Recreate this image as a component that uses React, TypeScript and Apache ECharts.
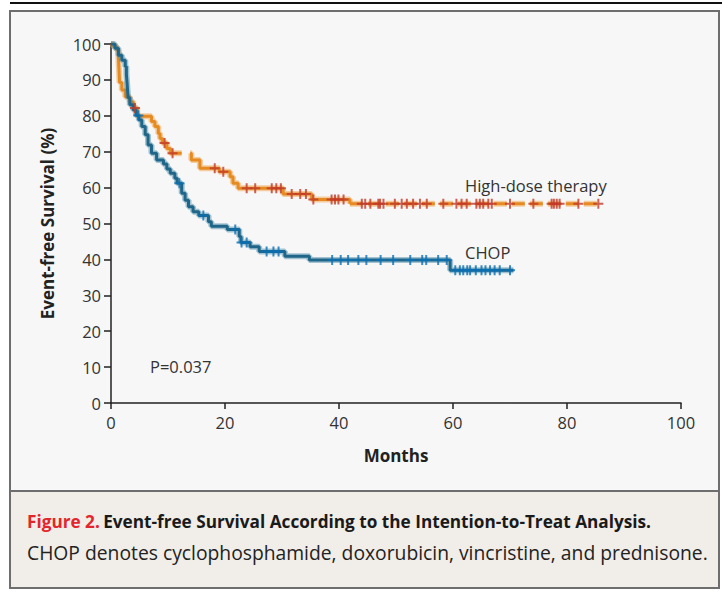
import React, { useEffect, useRef } from "react";
import * as echarts from "echarts";

// Kaplan-Meier step points [month, event-free survival %]
const chopCurve: [number, number][] = [
  [0, 100], [0.7, 98.8], [1.3, 96.9], [1.9, 95.5], [2.5, 93.7], [2.7, 91.5], [2.8, 89.5],
  [2.9, 87.2], [3.0, 85.0], [3.3, 83.1], [3.9, 81.6], [4.4, 80.1], [4.9, 78.8], [5.4, 77.0],
  [6.0, 74.7], [6.5, 71.9], [7.1, 69.6], [8.0, 67.7], [9.2, 66.6], [9.8, 65.2], [10.4, 64.0],
  [11.2, 62.6], [11.6, 61.2], [12.4, 58.4], [13.0, 56.5], [13.6, 54.7], [14.4, 53.3],
  [15.4, 52.2], [17.1, 50.5], [17.6, 49.2], [20.4, 48.3], [22.5, 46.4], [22.8, 44.7],
  [24.4, 43.5], [26.0, 42.2], [30.5, 40.9], [34.8, 39.8], [59.5, 37.0], [70.6, 37.0],
];

const highDoseCurve: [number, number][] = [
  [0, 100], [0.4, 99.3], [1.0, 98.3], [1.3, 96.0], [1.4, 93.0], [1.5, 89.3], [1.9, 87.2],
  [2.5, 85.3], [3.3, 83.9], [3.9, 82.2], [4.6, 79.9], [7.1, 78.4], [7.7, 77.0], [8.3, 75.1],
  [8.6, 73.7], [9.0, 72.4], [9.8, 70.9], [10.4, 69.6], [14.1, 67.7], [15.6, 65.4],
  [19.0, 64.4], [20.9, 63.0], [21.4, 61.2], [22.3, 59.8], [30.2, 58.2], [35.2, 56.7],
  [41.9, 55.5], [86.0, 55.5],
];

// censored observations (months)
const chopCensored = [
  4.8, 12.0, 16.2, 21.8, 22.9, 23.8, 27.3, 28.5, 29.4, 38.8, 40.3, 41.6, 43.4, 44.8, 47.3,
  49.5, 52.5, 54.6, 55.3, 57.4, 58.9, 60.4, 61.2, 61.8, 62.5, 63.0, 64.0, 65.0, 65.7, 66.5,
  67.3, 68.2, 70.0,
];
const highDoseCensored = [
  4.2, 9.4, 10.8, 18.2, 19.7, 23.8, 25.3, 28.2, 29.0, 29.8, 31.7, 33.2, 34.2, 35.5, 38.7,
  39.3, 39.9, 40.8, 44.0, 44.6, 45.5, 46.9, 47.2, 47.8, 49.8, 51.0, 51.9, 53.0, 54.2, 55.4,
  58.3, 60.6, 61.5, 62.4, 64.1, 64.7, 65.3, 66.2, 66.8, 70.0, 74.1, 77.3, 77.7, 78.2, 78.7,
  82.0, 85.5,
];

const highDoseGap = [12.4, 13.9]; // break in the drawn line
const highDoseDashFrom = 41.9; // dashed from here on

const xTicks = { min: 0, max: 100, interval: 20 };
const yTicks = { min: 0, max: 100, interval: 10 };

const FONT = "'Open Sans', 'Noto Sans', sans-serif";

function survivalAt(curve: [number, number][], t: number): number {
  let v = curve[0][1];
  for (const [x, y] of curve) {
    if (x <= t) v = y;
    else break;
  }
  return v;
}

function slice(curve: [number, number][], a: number, b: number): [number, number][] {
  const out: [number, number][] = [[a, survivalAt(curve, a)]];
  for (const p of curve) if (p[0] > a && p[0] < b) out.push(p);
  out.push([b, survivalAt(curve, b)]);
  return out;
}

const PLUS = "path://M4,0H6V4H10V6H6V10H4V6H0V4H4Z";

export default function App() {
  const ref = useRef<HTMLDivElement>(null);
  useEffect(() => {
    document.body.style.margin = "0";
    if (!ref.current) return;
    const chart = echarts.init(ref.current, undefined, { renderer: "svg" });

    const last = highDoseCurve[highDoseCurve.length - 1][0];
    const hd1 = slice(highDoseCurve, 0, highDoseGap[0]);
    const hd2 = slice(highDoseCurve, highDoseGap[1], highDoseDashFrom);
    const hd3 = slice(highDoseCurve, highDoseDashFrom, last);
    const chopLast = chopCurve[chopCurve.length - 1][0];
    const chop = slice(chopCurve, 0, chopLast);

    const orangeHalo = "rgba(240,170,90,0.55)";
    const orange = "#e68a22";
    const blueHalo = "rgba(60,130,165,0.45)";
    const blue = "#1f6688";

    const lineSeries = (data: [number, number][], color: string, width: number, dashed: boolean, z: number) => ({
      type: "line",
      data,
      step: "end",
      showSymbol: false,
      symbol: "none",
      silent: true,
      z,
      lineStyle: { color, width, type: dashed ? [13, 5] : "solid", cap: "butt" },
    });

    const option: any = {
      animation: false,
      backgroundColor: "#ffffff",
      grid: { left: 111, right: 41, top: 44, bottom: 189, containLabel: false },
      xAxis: {
        type: "value",
        ...xTicks,
        name: "Months",
        nameLocation: "middle",
        nameGap: 44,
        nameTextStyle: { fontFamily: FONT, fontSize: 17, fontWeight: "bold", color: "#222" },
        axisLine: { lineStyle: { color: "#222", width: 1.5 } },
        axisTick: { length: 6, lineStyle: { color: "#222", width: 1.5 } },
        axisLabel: { fontFamily: FONT, fontSize: 16.5, color: "#333", margin: 11 },
        splitLine: { show: false },
      },
      yAxis: {
        type: "value",
        ...yTicks,
        name: "Event-free Survival (%)",
        nameLocation: "middle",
        nameGap: 55,
        nameTextStyle: { fontFamily: FONT, fontSize: 17, fontWeight: "bold", color: "#222" },
        axisLine: { lineStyle: { color: "#222", width: 1.5 } },
        axisTick: { length: 7, lineStyle: { color: "#222", width: 1.5 } },
        axisLabel: { fontFamily: FONT, fontSize: 16.5, color: "#333", margin: 10 },
        splitLine: { show: false },
      },
      series: [
        lineSeries(hd1, orangeHalo, 6, false, 2),
        lineSeries(hd2, orangeHalo, 6, false, 2),
        lineSeries(hd3, orangeHalo, 6, true, 2),
        lineSeries(hd1, orange, 3, false, 3),
        lineSeries(hd2, orange, 3, false, 3),
        lineSeries(hd3, orange, 3, true, 3),
        lineSeries(chop, blueHalo, 6, false, 4),
        lineSeries(chop, blue, 3, false, 5),
        {
          type: "scatter",
          symbol: PLUS,
          symbolSize: 10,
          silent: true,
          z: 6,
          itemStyle: { color: "#c0392b" },
          data: highDoseCensored.map((t) => [t, survivalAt(highDoseCurve, t)]),
        },
        {
          type: "scatter",
          symbol: PLUS,
          symbolSize: 10,
          silent: true,
          z: 7,
          itemStyle: { color: "#0b6fb3" },
          data: chopCensored.map((t) => [t, survivalAt(chopCurve, t)]),
        },
      ],
      graphic: [
        { type: "line", z: -5, silent: true, shape: { x1: 10, y1: 3, x2: 722, y2: 3 }, style: { stroke: "#111", lineWidth: 2 } },
        { type: "rect", z: -10, silent: true, shape: { x: 10, y: 11, width: 709, height: 480 }, style: { fill: "#f7f7f7" } },
        { type: "rect", z: -10, silent: true, shape: { x: 10, y: 491, width: 709, height: 97 }, style: { fill: "#f1ede8" } },
        { type: "line", z: -5, silent: true, shape: { x1: 10, y1: 491, x2: 719, y2: 491 }, style: { stroke: "#6e6e6e", lineWidth: 2 } },
        { type: "rect", z: -5, silent: true, shape: { x: 10, y: 11, width: 709, height: 577 }, style: { fill: "none", stroke: "#6e6e6e", lineWidth: 2 } },
        {
          type: "text", silent: true, z: 10, left: 465, top: 177,
          style: { text: "High-dose therapy", fontFamily: FONT, fontSize: 16.5, fill: "#333" },
        },
        {
          type: "text", silent: true, z: 10, left: 465, top: 244,
          style: { text: "CHOP", fontFamily: FONT, fontSize: 16.5, fill: "#333" },
        },
        {
          type: "text", silent: true, z: 10, left: 150, top: 358,
          style: { text: "P=0.037", fontFamily: FONT, fontSize: 16.5, fill: "#333" },
        },
        {
          type: "text", silent: true, z: 10, left: 27, top: 513,
          style: {
            text: "{r|Figure 2.} {b|Event-free Survival According to the Intention-to-Treat Analysis.}",
            rich: {
              r: { fontFamily: FONT, fontSize: 17.2, fill: "#e3262d", fontWeight: "bold" },
              b: { fontFamily: FONT, fontSize: 17.2, fill: "#1a1a1a", fontWeight: "bold" },
            },
          },
        },
        {
          type: "text", silent: true, z: 10, left: 27, top: 543,
          style: {
            text: "CHOP denotes cyclophosphamide, doxorubicin, vincristine, and prednisone.",
            fontFamily: FONT, fontSize: 19.3, fill: "#222",
          },
        },
      ],
    };
    chart.setOption(option);
    return () => chart.dispose();
  }, []);
  return <div ref={ref} style={{ width: 722, height: 592 }} />;
}
